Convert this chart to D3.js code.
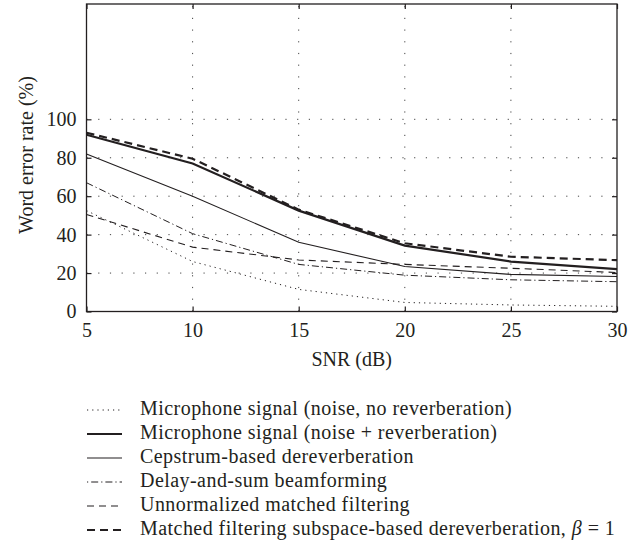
<!DOCTYPE html>
<html>
<head>
<meta charset="utf-8">
<script src="https://cdn.jsdelivr.net/npm/d3@7"></script>
<style>
  body { margin: 0; background: #fff; }
  svg { display: block; }
</style>
</head>
<body>
<div id="chart"></div>
<script>
// SNR values on the x axis
const snr = [5, 10, 15, 20, 25, 30];

// word error rate (%) per method
const micClean = [52.5, 26, 11.5, 4.7, 3.4, 2.7];
const micReverb = [92, 77, 52.5, 34.3, 26, 22];
const cepstrum = [82, 60, 36, 23.4, 19.3, 18.2];
const delaySum = [67, 40.5, 24.5, 18.9, 16.5, 15.5];
const unnormMF = [50.5, 33.5, 26.8, 24.5, 22.5, 20.3];
const subspaceMF = [93, 79.5, 53, 35.5, 28.5, 26.7];

const legendLabels = [
  "Microphone signal (noise, no reverberation)",
  "Microphone signal (noise + reverberation)",
  "Cepstrum-based dereverberation",
  "Delay-and-sum beamforming",
  "Unnormalized matched filtering",
  "Matched filtering subspace-based dereverberation, "
];

const xTicks = [5, 10, 15, 20, 25, 30];
const yTicks = [0, 20, 40, 60, 80, 100];

const ink = "#231f20";
const serif = "'Liberation Serif', 'DejaVu Serif', serif";
const series = [
  { values: micClean, width: 1, dash: "1.2,4", offset: 0 },
  { values: micReverb, width: 2.2, dash: null, offset: 0 },
  { values: cepstrum, width: 1.1, dash: null, offset: 0 },
  { values: delaySum, width: 1, dash: "7,3,1.2,3", offset: 10 },
  { values: unnormMF, width: 1.1, dash: "7,5", offset: 0 },
  { values: subspaceMF, width: 2.2, dash: "8,5", offset: 0 }
];

const width = 639, height = 558;
const margins = { top: 4, right: 22, bottom: 246.5, left: 86.5 };
const innerWidth = width - margins.left - margins.right;
const innerHeight = height - margins.top - margins.bottom;

const svg = d3.select("#chart").append("svg")
  .attr("width", width)
  .attr("height", height)
  .attr("font-family", serif);

const mainG = svg.append("g")
  .attr("transform", `translate(${margins.left},${margins.top})`);

const xScale = d3.scaleLinear().domain([5, 30]).range([0, innerWidth]);
const yScale = d3.scaleLinear().domain([0, 160]).range([innerHeight, 0]);

// dotted grid
const gridG = mainG.append("g").attr("class", "grid");
gridG.selectAll("line.vgrid")
  .data(xTicks.slice(1, -1))
  .join("line")
  .attr("class", "vgrid")
  .attr("x1", (d) => xScale(d)).attr("x2", (d) => xScale(d))
  .attr("y1", innerHeight).attr("y2", 0)
  .attr("stroke", "#444").attr("stroke-width", 1)
  .attr("stroke-dasharray", "1.2,10.5");
gridG.selectAll("line.hgrid")
  .data(yTicks.slice(1))
  .join("line")
  .attr("class", "hgrid")
  .attr("x1", 0).attr("x2", innerWidth)
  .attr("y1", (d) => yScale(d)).attr("y2", (d) => yScale(d))
  .attr("stroke", "#444").attr("stroke-width", 1)
  .attr("stroke-dasharray", "1.2,10.5");

// data lines
const line = d3.line()
  .x((d, i) => xScale(snr[i]))
  .y((d) => yScale(d));

mainG.append("g").attr("class", "lines")
  .selectAll("path")
  .data(series)
  .join("path")
  .attr("d", (d) => line(d.values))
  .attr("fill", "none")
  .attr("stroke", ink)
  .attr("stroke-width", (d) => d.width)
  .attr("stroke-dasharray", (d) => d.dash);

// axes, inward ticks on all four sides
const tickLen = 5;
const xAxisG = mainG.append("g")
  .attr("transform", `translate(0,${innerHeight})`)
  .call(d3.axisBottom(xScale).tickValues(xTicks).tickSizeInner(-tickLen).tickSizeOuter(0).tickPadding(11));
const yAxisG = mainG.append("g")
  .call(d3.axisLeft(yScale).tickValues(yTicks).tickSizeInner(-tickLen).tickSizeOuter(0).tickPadding(10));
const topG = mainG.append("g")
  .call(d3.axisTop(xScale).tickValues(xTicks).tickSizeInner(-tickLen).tickSizeOuter(0));
const rightG = mainG.append("g")
  .attr("transform", `translate(${innerWidth},0)`)
  .call(d3.axisRight(yScale).tickValues(yTicks).tickSizeInner(-tickLen).tickSizeOuter(0));
topG.selectAll("text").remove();
rightG.selectAll("text").remove();

mainG.selectAll(".domain").remove();
mainG.selectAll(".tick line").attr("stroke", ink).attr("stroke-width", 1.2);
[xAxisG, yAxisG].forEach((g) => {
  g.attr("font-family", serif).attr("font-size", 20);
  g.selectAll("text").attr("fill", ink);
});

// frame
mainG.append("rect")
  .attr("x", 0).attr("y", 0)
  .attr("width", innerWidth).attr("height", innerHeight)
  .attr("fill", "none").attr("stroke", ink).attr("stroke-width", 1.3);

// axis labels
mainG.append("text")
  .attr("x", innerWidth / 2)
  .attr("y", innerHeight + 54)
  .attr("text-anchor", "middle")
  .attr("font-size", "20px")
  .attr("fill", ink)
  .text("SNR (dB)");

mainG.append("text")
  .attr("transform", `translate(-54,151) rotate(-90)`)
  .attr("text-anchor", "middle")
  .attr("font-size", "20px")
  .attr("fill", ink)
  .text("Word error rate (%)");

// legend
const legendG = svg.append("g").attr("class", "legend")
  .attr("transform", "translate(87,410)");
const rowH = 24;
const rows = legendG.selectAll("g.row")
  .data(series)
  .join("g")
  .attr("class", "row")
  .attr("transform", (d, i) => `translate(0,${i * rowH})`);

rows.append("line")
  .attr("x1", 0).attr("x2", 35)
  .attr("y1", 0).attr("y2", 0)
  .attr("stroke", ink)
  .attr("stroke-width", (d) => d.width)
  .attr("stroke-dasharray", (d) => d.dash)
  .attr("stroke-dashoffset", (d) => d.offset);

const labels = rows.append("text")
  .attr("x", 53)
  .attr("y", 5)
  .attr("font-size", "20px")
  .attr("letter-spacing", "0.45px")
  .attr("fill", ink)
  .text((d, i) => legendLabels[i]);

const lastLabel = labels.filter((d, i) => i === legendLabels.length - 1);
lastLabel.append("tspan").attr("font-style", "italic").text("β");
lastLabel.append("tspan").text(" = 1");
</script>
</body>
</html>
